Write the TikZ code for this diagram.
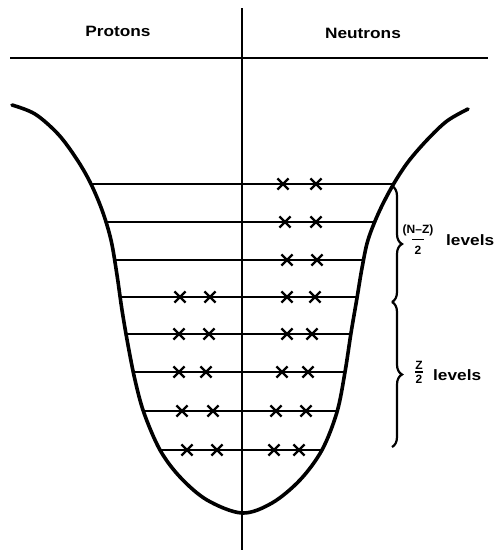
\documentclass[tikz,border=0pt]{standalone}
\usepackage{fontspec}
\setmainfont{Liberation Sans}
\usetikzlibrary{shapes.misc,decorations.pathreplacing}
\begin{document}
\begin{tikzpicture}[x=1pt,y=-1pt,
  well/.style={line width=3.6pt,line cap=round},
  axisline/.style={line width=1.7pt},
  levelline/.style={line width=1.9pt},
  xmark/.style={cross out,draw,minimum size=9pt,inner sep=0pt,line width=2.2pt},
  bigtext/.style={font=\fontsize{15}{17}\selectfont\bfseries,inner sep=0pt},
  smalltext/.style={font=\fontsize{12}{13}\selectfont\bfseries,inner sep=0pt},
  bracestyle/.style={decorate,decoration={brace,amplitude=10pt},line width=2.2pt}]
\useasboundingbox (0,0) rectangle (497,550);
% axes
\coordinate (axtop) at (242,8);
\coordinate (axbot) at (242,550);
\coordinate (hl) at (10,58);
\coordinate (hr) at (488,58);
\draw[axisline] (axtop) -- (axbot);
\draw[axisline] (hl) -- (hr);
\node[bigtext] (protons) at (118,31) {\scalebox{1.15}[1]{Protons}};
\node[bigtext] (neutrons) at (363,33) {\scalebox{1.15}[1]{Neutrons}};
% well
\draw[well] plot[smooth,tension=0.55] coordinates {
 (12,105) (35,114) (58,134) (76,158) (90,182) (102,210) (111,240) (117,275)
 (122,310) (128,345) (135,380) (144,413) (160,450) (180,477) (207,500) (242,513)
 (272,503) (300,480) (322,450) (337,412) (345,372) (351,333) (357,298)
 (362,268) (368,240) (379,212) (393,185) (408,162) (427,140) (447,121) (468,109)};
% levels
\foreach \i/\y/\l/\r in {1/184/91/392, 2/222/106/373, 3/260/115/362, 4/297/120/357,
                         5/334/126/351, 6/372/133/345, 7/411/143/337, 8/450/160/322}{
  \coordinate (lvL\i) at (\l,\y);
  \coordinate (lvR\i) at (\r,\y);
  \draw[levelline] (lvL\i) -- (lvR\i);
}
% neutrons
\foreach \i/\y/\a/\b in {1/184/283/316, 2/222/285/316, 3/260/287/317, 4/297/287/315,
                         5/334/287/312, 6/372/282/308, 7/411/276/306, 8/450/274/299}{
  \node[xmark] (na\i) at (\a,\y) {};
  \node[xmark] (nb\i) at (\b,\y) {};
}
% protons
\foreach \i/\y/\a/\b in {4/297/180/210, 5/334/179/209, 6/372/179/206,
                         7/411/182/213, 8/450/187/217}{
  \node[xmark] (pa\i) at (\a,\y) {};
  \node[xmark] (pb\i) at (\b,\y) {};
}
% braces
\coordinate (b1t) at (392,186);
\coordinate (b1b) at (392,302);
\coordinate (b2b) at (392,447);
\draw[bracestyle] (b1t) -- (b1b);
\draw[bracestyle] (b1b) -- (b2b);
% labels
\node[smalltext] (num1) at (418,230) {(N--Z)};
\node[smalltext] (den1) at (418,250) {2};
\draw[line width=1.3pt] (412,239.5) -- (424,239.5);
\node[bigtext,anchor=west] (lev1) at (446,240) {\scalebox{1.15}[1]{levels}};
\node[smalltext] (num2) at (419,365) {Z};
\node[smalltext] (den2) at (419,379) {2};
\draw[line width=1.3pt] (415,372) -- (423,372);
\node[bigtext,anchor=west] (lev2) at (433,375) {\scalebox{1.15}[1]{levels}};
\end{tikzpicture}
\end{document}
